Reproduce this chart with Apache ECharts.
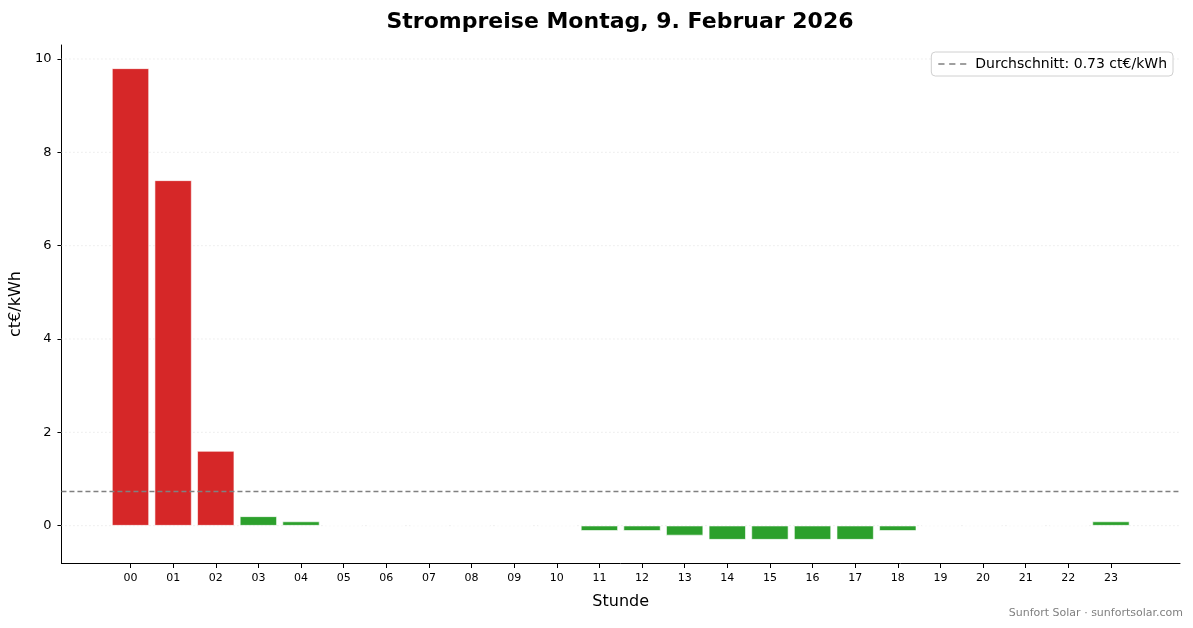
<!DOCTYPE html>
<html>
<head>
<meta charset="utf-8">
<script src="https://cdn.jsdelivr.net/npm/echarts@6/dist/echarts.min.js"></script>
<style>
html,body{margin:0;padding:0;background:#fff;}
#c{width:1193px;height:628px;}
</style>
</head>
<body>
<div id="c"></div>
<script>
const hours = ["00","01","02","03","04","05","06","07","08","09","10","11","12","13","14","15","16","17","18","19","20","21","22","23"];
const prices = [9.80, 7.40, 1.60, 0.20, 0.09, 0.00, 0.00, 0.00, 0.00, 0.00, 0.00, -0.11, -0.11, -0.21, -0.30, -0.30, -0.30, -0.30, -0.11, 0.00, 0.00, 0.00, 0.00, 0.09];
const average = 0.73;
const yTicks = [0, 2, 4, 6, 8, 10];
const titleText = "Strompreise Montag, 9. Februar 2026";
const legendText = "Durchschnitt: 0.73 ct€/kWh";
const footerText = "Sunfort Solar · sunfortsolar.com";

const FONT = "DejaVu Sans";
const xMin = -1.62, xMax = 24.62, yMin = -0.8, yMax = 10.3;
const idx = hours.map((h, i) => i);

const gridSeries = yTicks.map(v => ({
  type: 'line', silent: true, symbol: 'none', showSymbol: false,
  data: [[xMin, v], [xMax, v]],
  lineStyle: {color: '#d8d8d8', type: [1, 3], width: 0.8},
  z: 0
}));

const chart = echarts.init(document.getElementById('c'), null, {renderer: 'canvas'});
chart.setOption({
  animation: false,
  backgroundColor: '#fff',
  textStyle: {fontFamily: FONT},
  title: [{
    text: titleText,
    left: 615, top: 6, textAlign: 'center',
    textStyle: {fontFamily: FONT, fontSize: 22, fontWeight: 'bold', color: '#000'}
  }],
  graphic: [{
    type: 'text', right: 10, top: 608,
    style: {text: footerText, fill: '#808080', font: '11px "DejaVu Sans"'}
  }],
  legend: {
    right: 20, top: 52,
    data: [{name: legendText, icon: 'path://M0,0h6v1.5h-6z M10.5,0h6v1.5h-6z M21,0h6v1.5h-6z'}],
    itemWidth: 28, itemHeight: 2,
    itemGap: 8,
    padding: [5, 6, 5, 7],
    borderColor: '#d0d0d0', borderWidth: 1, borderRadius: 4,
    backgroundColor: '#fff',
    textStyle: {fontFamily: FONT, fontSize: 14, color: '#000', padding: [0, 0, 0, 4]}
  },
  grid: {left: 61, right: 13, top: 45, bottom: 65, containLabel: false},
  xAxis: {
    type: 'value', min: xMin, max: xMax,
    name: 'Stunde', nameLocation: 'middle', nameGap: 31,
    nameTextStyle: {fontFamily: FONT, fontSize: 16, color: '#000'},
    axisLine: {show: true, onZero: false, lineStyle: {color: '#000', width: 1}},
    axisTick: {show: true, length: 5, lineStyle: {color: '#000'}, customValues: idx},
    axisLabel: {
      customValues: idx, margin: 10,
      fontFamily: FONT, fontSize: 11, color: '#000',
      formatter: v => hours[Math.round(v)] ?? ''
    },
    splitLine: {show: false}
  },
  yAxis: {
    type: 'value', min: yMin, max: yMax,
    name: 'ct€/kWh', nameLocation: 'middle', nameGap: 34, nameRotate: 90,
    nameTextStyle: {fontFamily: FONT, fontSize: 16, color: '#000'},
    axisLine: {show: true, onZero: false, lineStyle: {color: '#000', width: 1}},
    axisTick: {show: true, length: 4, lineStyle: {color: '#000'}, customValues: yTicks},
    axisLabel: {customValues: yTicks, margin: 10, fontFamily: FONT, fontSize: 13, color: '#000'},
    splitLine: {show: false}
  },
  series: gridSeries.concat([
    {
      type: 'bar', name: 'Preis',
      data: prices.map((v, i) => [i, v]),
      barWidth: 37,
      itemStyle: {
        color: p => p.value[1] > average ? '#d62728' : '#2ca02c',
        borderColor: '#ffffff', borderWidth: 0.6
      },
      z: 2
    },
    {
      type: 'line', name: legendText,
      data: [[xMin, average], [xMax, average]],
      showSymbol: false, symbol: 'none',
      lineStyle: {color: '#808080', type: [5, 3], width: 1.5},
      itemStyle: {color: '#808080'},
      z: 3
    }
  ])
});
</script>
</body>
</html>
